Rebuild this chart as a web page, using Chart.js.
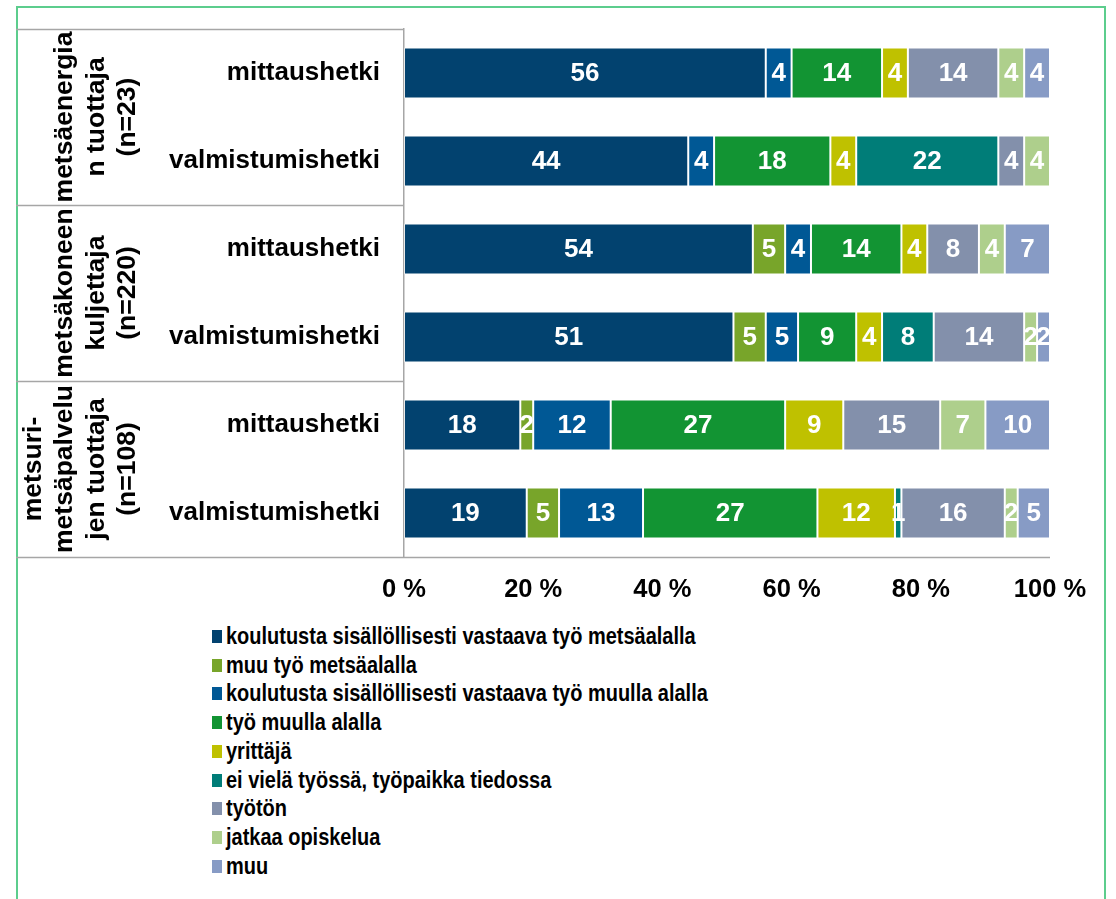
<!DOCTYPE html>
<html>
<head>
<meta charset="utf-8">
<script src="https://cdn.jsdelivr.net/npm/chart.js@4"></script>
<style>
  body { margin: 0; background: #fff; }
  .frame { position: absolute; left: 16px; top: 6px; width: 1086px; height: 910px; border: 2px solid #5ccd8d; border-bottom: none; }
  .chart-box { position: absolute; left: 0; top: 0; width: 1116px; height: 610px; }
  #legend { position: absolute; left: 212px; top: 622px; font-family: "Liberation Sans", Arial, sans-serif; font-weight: bold; color: #000; }
  #legend .item { height: 28.75px; display: flex; align-items: center; }
  #legend .box { width: 10px; height: 13px; margin-right: 4px; flex: none; }
  #legend .txt { font-size: 23.5px; transform: scaleX(0.85); transform-origin: left center; white-space: nowrap; }
</style>
</head>
<body>
<div class="frame"></div>
<div class="chart-box"><canvas id="chart"></canvas></div>
<div id="legend"></div>
<script>
  // rows, top to bottom
  const categories = ['mittaushetki', 'valmistumishetki', 'mittaushetki', 'valmistumishetki', 'mittaushetki', 'valmistumishetki']
  const groupLabels = [
      ['metsäenergia', 'n tuottaja', '(n=23)'],
      ['metsäkoneen', 'kuljettaja', '(n=220)'],
      ['metsuri-', 'metsäpalvelu', 'jen tuottaja', '(n=108)']
  ]
  const xTicks = [0, 20, 40, 60, 80, 100]

  // percentages per row
  const metsaalaVastaava = [56, 44, 54, 51, 18, 19]
  const muuMetsaala = [0, 0, 5, 5, 2, 5]
  const muullaVastaava = [4, 4, 4, 5, 12, 13]
  const tyoMuulla = [14, 18, 14, 9, 27, 27]
  const yrittaja = [4, 4, 4, 4, 9, 12]
  const eiVielaTyossa = [0, 22, 0, 8, 0, 1]
  const tyoton = [14, 4, 8, 14, 15, 16]
  const jatkaaOpiskelua = [4, 4, 4, 2, 7, 2]
  const muu = [4, 0, 7, 2, 10, 5]

  const seriesNames = [
      'koulutusta sisällöllisesti vastaava työ metsäalalla',
      'muu työ metsäalalla',
      'koulutusta sisällöllisesti vastaava työ muulla alalla',
      'työ muulla alalla',
      'yrittäjä',
      'ei vielä työssä, työpaikka tiedossa',
      'työtön',
      'jatkaa opiskelua',
      'muu'
  ]
  const seriesValues = [metsaalaVastaava, muuMetsaala, muullaVastaava, tyoMuulla, yrittaja, eiVielaTyossa, tyoton, jatkaaOpiskelua, muu]
  const seriesColors = ['#02426f', '#78a52a', '#005895', '#129433', '#bfc100', '#007d78', '#8390ab', '#aecf8c', '#879bc5']

  const FONT = '"Liberation Sans", Arial, sans-serif'
  const LEFT = 16

  // value labels inside the segments
  const valueLabels = {
      id: 'valueLabels',
      afterDatasetsDraw(chart) {
          const ctx = chart.ctx
          ctx.save()
          ctx.font = 'bold 26px ' + FONT
          ctx.fillStyle = '#fff'
          ctx.textAlign = 'center'
          ctx.textBaseline = 'middle'
          chart.data.datasets.forEach(function (ds, i) {
              chart.getDatasetMeta(i).data.forEach(function (bar, j) {
                  const v = ds.data[j]
                  if (!v) return
                  const p = bar.getCenterPoint()
                  ctx.fillText(String(v), p.x, p.y + 1)
              })
          })
          ctx.restore()
      }
  }

  // table lines and rotated group labels on the left
  const groupBox = {
      id: 'groupBox',
      afterDraw(chart) {
          const ctx = chart.ctx
          const y = chart.scales.y
          const area = chart.chartArea
          const step = y.getPixelForValue(1) - y.getPixelForValue(0)
          ctx.save()
          ctx.strokeStyle = '#a6a6a6'
          ctx.lineWidth = 1.5
          ctx.beginPath()
          for (let g = 0; g <= groupLabels.length; g++) {
              const yy = Math.round(y.getPixelForValue(g * 2) - step / 2) + 0.5
              ctx.moveTo(LEFT, yy)
              ctx.lineTo(g === groupLabels.length ? area.right : area.left, yy)
          }
          ctx.stroke()

          ctx.fillStyle = '#000'
          ctx.font = 'bold 26.5px ' + FONT
          ctx.textAlign = 'center'
          ctx.textBaseline = 'middle'
          groupLabels.forEach(function (lines, g) {
              const cy = (y.getPixelForValue(g * 2) + y.getPixelForValue(g * 2 + 1)) / 2
              lines.forEach(function (line, k) {
                  const cx = 128 - (lines.length - 1 - k) * 31.5
                  ctx.save()
                  ctx.translate(cx, cy)
                  ctx.rotate(-Math.PI / 2)
                  ctx.fillText(line, 0, 0)
                  ctx.restore()
              })
          })
          ctx.restore()
      }
  }

  function noScalePadding(scale) {
      scale.paddingTop = 0
      scale.paddingBottom = 0
      scale.paddingLeft = 0
      scale.paddingRight = 0
  }

  new Chart(document.getElementById('chart'), {
      type: 'bar',
      data: {
          labels: categories,
          datasets: seriesNames.map(function (name, i) {
              return {
                  label: name,
                  data: seriesValues[i],
                  backgroundColor: seriesColors[i],
                  borderColor: 'rgba(255, 255, 255, 0.55)',
                  borderWidth: 1,
                  borderSkipped: false,
                  categoryPercentage: 1,
                  barPercentage: 0.58
              }
          })
      },
      options: {
          indexAxis: 'y',
          responsive: true,
          maintainAspectRatio: false,
          animation: false,
          layout: { padding: { left: LEFT, top: 29, right: 66, bottom: 0 } },
          plugins: {
              legend: { display: false },
              tooltip: { enabled: false }
          },
          scales: {
              x: {
                  stacked: true,
                  min: 0,
                  max: 100,
                  afterBuildTicks: function (scale) {
                      scale.ticks = xTicks.map(function (v) { return { value: v } })
                  },
                  afterFit: function (scale) {
                      scale.height = 53
                      noScalePadding(scale)
                  },
                  grid: { display: false, drawTicks: false },
                  border: { display: false },
                  ticks: {
                      padding: 18,
                      color: '#000',
                      font: { family: FONT, size: 25.5, weight: 'bold' },
                      callback: function (v) { return v + ' %' }
                  }
              },
              y: {
                  stacked: true,
                  afterFit: function (scale) {
                      scale.width = 388
                      noScalePadding(scale)
                  },
                  grid: { display: false, drawTicks: false },
                  border: { display: true, color: '#a6a6a6', width: 1.5 },
                  ticks: {
                      padding: 24,
                      color: '#000',
                      font: { family: FONT, size: 26, weight: 'bold' }
                  }
              }
          }
      },
      plugins: [valueLabels, groupBox]
  });

  // legend as a vertical list under the chart
  const legend = document.getElementById('legend')
  seriesNames.forEach(function (name, i) {
      const item = document.createElement('div')
      item.className = 'item'
      const box = document.createElement('span')
      box.className = 'box'
      box.style.background = seriesColors[i]
      const txt = document.createElement('span')
      txt.className = 'txt'
      txt.textContent = name
      item.appendChild(box)
      item.appendChild(txt)
      legend.appendChild(item)
  })
</script>
</body>
</html>
